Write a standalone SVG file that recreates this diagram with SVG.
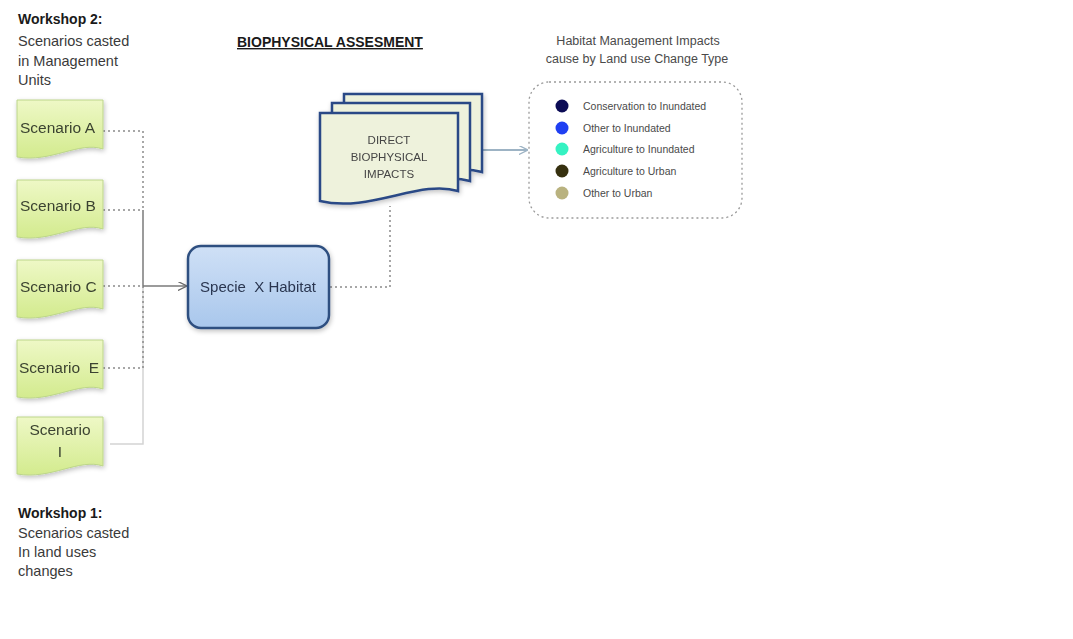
<svg xmlns="http://www.w3.org/2000/svg" width="1073" height="639" viewBox="0 0 1073 639">
<defs>
<linearGradient id="gGreen" x1="0" y1="0" x2="0" y2="1">
<stop offset="0" stop-color="#eef8c6"/>
<stop offset="1" stop-color="#d3eb8e"/>
</linearGradient>
<linearGradient id="gBlue" x1="0" y1="0" x2="0" y2="1">
<stop offset="0" stop-color="#cfe0f6"/>
<stop offset="1" stop-color="#a9c7ec"/>
</linearGradient>
<filter id="sh" x="-20%" y="-20%" width="140%" height="140%">
<feGaussianBlur in="SourceAlpha" stdDeviation="2.5"/>
<feOffset dx="1" dy="2" result="b"/>
<feComponentTransfer><feFuncA type="linear" slope="0.25"/></feComponentTransfer>
<feMerge><feMergeNode/><feMergeNode in="SourceGraphic"/></feMerge>
</filter>
<path id="doc" d="M0,0 H86 V49 C62,41 34,63 0,57 Z"/>
<path id="bigdoc" d="M0,0 H138 V78 C100,66 50,100 0,88 Z"/>
<marker id="arr" viewBox="0 0 10 10" refX="9" refY="5" markerWidth="9" markerHeight="9" orient="auto" markerUnits="userSpaceOnUse">
<path d="M0,0 L10,5 L0,10" fill="none" stroke="#6a6a6a" stroke-width="1.5"/>
</marker>
<marker id="arr2" viewBox="0 0 10 10" refX="9" refY="5" markerWidth="9" markerHeight="9" orient="auto" markerUnits="userSpaceOnUse">
<path d="M0,0 L10,5 L0,10" fill="none" stroke="#9db3c4" stroke-width="1.5"/>
</marker>
</defs>
<style>
.t{font-family:"Liberation Sans",Arial,sans-serif;fill:#3a3a3a}
.ws{font-size:14.5px}
.wb{font-size:14px;font-weight:bold;fill:#1a1a1a}
.sc{font-size:15.5px;fill:#3b4330}
.leg{font-size:10.5px;fill:#4a4a4a}
.doc{fill:url(#gGreen);stroke:#bcd58a;stroke-width:1}
.dot{fill:none;stroke:#8a8a8a;stroke-width:1.5;stroke-dasharray:2 3}
.sol{fill:none;stroke:#7a7a7a;stroke-width:1.5}
.stk{fill:#eef2dc;stroke:#2b4a86;stroke-width:2.5}
</style>
<rect width="1073" height="639" fill="#ffffff"/>

<g id="workshop2">
<text class="t wb" x="18" y="24">Workshop 2:</text>
<text class="t ws" x="18" y="46">Scenarios casted</text>
<text class="t ws" x="18" y="66">in Management</text>
<text class="t ws" x="18" y="85">Units</text>
</g>

<g id="title">
<text class="t" x="237" y="47" style="font-size:14px;font-weight:bold;fill:#1a1a1a;text-decoration:underline">BIOPHYSICAL ASSESMENT</text>
</g>

<g id="workshop1">
<text class="t wb" x="18" y="518">Workshop 1:</text>
<text class="t ws" x="18" y="538">Scenarios casted</text>
<text class="t ws" x="18" y="557">In land uses</text>
<text class="t ws" x="18" y="576">changes</text>
</g>

<g id="connectors">
<path class="dot" d="M103,131 H143 V210"/>
<path class="dot" d="M103,210 H143"/>
<path class="sol" d="M143,210 V286"/>
<path class="dot" d="M103,286 H143"/>
<path d="M143,286 V444 H110" fill="none" stroke="#d4d4d4" stroke-width="1.5"/>
<path class="dot" d="M143,286 V368 H103"/>
<path class="sol" d="M143,286 H186" marker-end="url(#arr)"/>
<path class="dot" d="M330,287 H390 V206"/>
<path d="M483,150 H527" fill="none" stroke="#9db3c4" stroke-width="2" marker-end="url(#arr2)"/>
</g>

<g id="scenarioA" filter="url(#sh)">
<use href="#doc" class="doc" x="17" y="100"/>
<text class="t sc" x="20" y="133">Scenario A</text>
</g>
<g id="scenarioB" filter="url(#sh)">
<use href="#doc" class="doc" x="17" y="180"/>
<text class="t sc" x="20" y="211">Scenario B</text>
</g>
<g id="scenarioC" filter="url(#sh)">
<use href="#doc" class="doc" x="17" y="260"/>
<text class="t sc" x="20" y="292">Scenario C</text>
</g>
<g id="scenarioE" filter="url(#sh)">
<use href="#doc" class="doc" x="17" y="340"/>
<text class="t sc" x="19" y="373" xml:space="preserve">Scenario  E</text>
</g>
<g id="scenarioI" filter="url(#sh)">
<use href="#doc" class="doc" x="17" y="417"/>
<text class="t sc" x="60" y="435" text-anchor="middle">Scenario</text>
<text class="t sc" x="60" y="457" text-anchor="middle">I</text>
</g>

<g id="specie" filter="url(#sh)">
<rect x="188" y="246" width="141" height="82" rx="13" fill="url(#gBlue)" stroke="#2f4f80" stroke-width="2.5"/>
<text class="t" x="258" y="292" text-anchor="middle" style="font-size:15px;fill:#2a3650" xml:space="preserve">Specie  X Habitat</text>
</g>

<g id="impacts" filter="url(#sh)">
<use href="#bigdoc" class="stk" x="344" y="94"/>
<use href="#bigdoc" class="stk" x="332" y="103"/>
<use href="#bigdoc" class="stk" x="320" y="113"/>
<text class="t" x="389" y="144" text-anchor="middle" style="font-size:11.5px;fill:#454545">DIRECT</text>
<text class="t" x="389" y="161" text-anchor="middle" style="font-size:11.5px;fill:#454545">BIOPHYSICAL</text>
<text class="t" x="389" y="178" text-anchor="middle" style="font-size:11.5px;fill:#454545">IMPACTS</text>
</g>

<g id="legend">
<text class="t" x="638" y="45" text-anchor="middle" style="font-size:12.5px;fill:#4a4a4a">Habitat Management Impacts</text>
<text class="t" x="637" y="63" text-anchor="middle" style="font-size:12.5px;fill:#4a4a4a">cause by Land use Change Type</text>
<rect x="529" y="82" width="213" height="136" rx="20" fill="none" stroke="#9a9a9a" stroke-width="1.3" stroke-dasharray="2 3"/>
<circle cx="562" cy="106" r="6.5" fill="#0b0b55"/>
<text class="t leg" x="583" y="110">Conservation to Inundated</text>
<circle cx="562" cy="128" r="6.5" fill="#1f3ff2"/>
<text class="t leg" x="583" y="132">Other to Inundated</text>
<circle cx="562" cy="149" r="6.5" fill="#35f2c2"/>
<text class="t leg" x="583" y="153">Agriculture to Inundated</text>
<circle cx="562" cy="171" r="6.5" fill="#36300f"/>
<text class="t leg" x="583" y="175">Agriculture to Urban</text>
<circle cx="562" cy="193" r="6.5" fill="#b9b27f"/>
<text class="t leg" x="583" y="197">Other to Urban</text>
</g>
</svg>
